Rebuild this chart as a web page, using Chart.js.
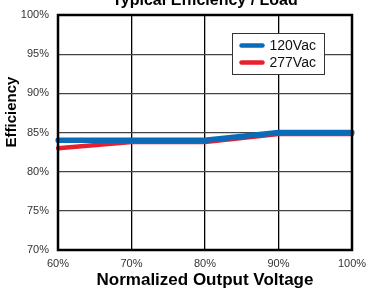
<!DOCTYPE html>
<html><head><meta charset="utf-8">
<script src="https://cdn.jsdelivr.net/npm/chart.js@4"></script>
<style>html,body{margin:0;padding:0;background:#fff;}#wrap{width:368px;height:291px;position:relative;}</style>
</head><body><div id="wrap"><canvas id="c" width="368" height="291"></canvas></div>
<script>
const categories = ['60%','70%','80%','90%','100%'];
const series120 = [84, 84, 84, 85, 85];
const series277 = [83, 83.8, 83.8, 84.8, 84.8];
const yTicks = [70, 75, 80, 85, 90, 95, 100];
const titleText = 'Typical Efficiency / Load';
const xTitle = 'Normalized Output Voltage';
const yTitle = 'Efficiency';
const FONT = 'Arial, "Liberation Sans", Helvetica, sans-serif';

const overlay = {
  id: 'overlay',
  afterDraw(chart) {
    const ctx = chart.ctx, a = chart.chartArea;
    ctx.save();
    ctx.font = 'bold 16px ' + FONT;
    ctx.fillStyle = '#000';
    ctx.textAlign = 'center';
    ctx.textBaseline = 'alphabetic';
    ctx.fillText(titleText, (a.left + a.right) / 2, 5);
    ctx.font = 'bold 17px ' + FONT;
    ctx.textBaseline = 'middle';
    ctx.fillText(xTitle, (a.left + a.right) / 2, 280);
    ctx.font = 'bold 15px ' + FONT;
    ctx.translate(12, 112);
    ctx.rotate(-Math.PI / 2);
    ctx.fillText(yTitle, 0, 0);
    ctx.setTransform(1, 0, 0, 1, 0, 0);
    ctx.strokeStyle = '#000';
    ctx.lineWidth = 2.5;
    ctx.strokeRect(a.left, a.top, a.right - a.left, a.bottom - a.top);
    const lx = 232.5, ly = 33.5, lw = 92, lh = 41;
    ctx.fillStyle = '#fff';
    ctx.fillRect(lx, ly, lw, lh);
    ctx.lineWidth = 1;
    ctx.strokeStyle = '#333';
    ctx.strokeRect(lx, ly, lw, lh);
    ctx.font = '14px ' + FONT;
    ctx.textAlign = 'left';
    ctx.textBaseline = 'middle';
    chart.data.datasets.forEach((ds, i) => {
      const y = ly + 12 + i * 17;
      ctx.strokeStyle = ds.borderColor;
      ctx.lineWidth = 4.5;
      ctx.lineCap = 'round';
      ctx.beginPath(); ctx.moveTo(lx + 9, y); ctx.lineTo(lx + 30, y); ctx.stroke();
      ctx.fillStyle = '#111';
      ctx.fillText(ds.label, lx + 37, y + 1);
    });
    ctx.restore();
  }
};

new Chart(document.getElementById('c'), {
  type: 'line',
  data: {
    labels: categories,
    datasets: [
      { label: '120Vac', data: series120, borderColor: '#0a6cb8', borderWidth: 5.5, pointRadius: 0, tension: 0, order: 0, borderCapStyle: 'round' },
      { label: '277Vac', data: series277, borderColor: '#e8202e', borderWidth: 4.5, pointRadius: 0, tension: 0, order: 1, borderCapStyle: 'round' }
    ]
  },
  options: {
    responsive: false,
    animation: false,
    layout: { padding: { top: 15, right: 16, left: 0, bottom: 0 } },
    plugins: { legend: { display: false }, title: { display: false }, tooltip: { enabled: false } },
    scales: {
      x: {
        type: 'category',
        offset: false,
        grid: { color: '#000', lineWidth: 1.3, drawTicks: false },
        border: { display: false },
        ticks: { color: '#333', font: { size: 11, family: FONT }, padding: 7, maxRotation: 0 },
        title: { display: false },
        afterFit(s) { s.height = 41; s.paddingLeft = 0; s.paddingRight = 0; }
      },
      y: {
        min: 70, max: 100,
        afterBuildTicks(s) { s.ticks = yTicks.map(v => ({ value: v })); },
        grid: { color: '#444', lineWidth: 1.3, drawTicks: false },
        border: { display: false },
        ticks: { color: '#333', font: { size: 11, family: FONT }, padding: 9, callback: v => v + '%' },
        title: { display: false },
        afterFit(s) { s.width = 58; s.paddingTop = 0; s.paddingBottom = 0; }
      }
    }
  },
  plugins: [overlay]
});
</script></body></html>
